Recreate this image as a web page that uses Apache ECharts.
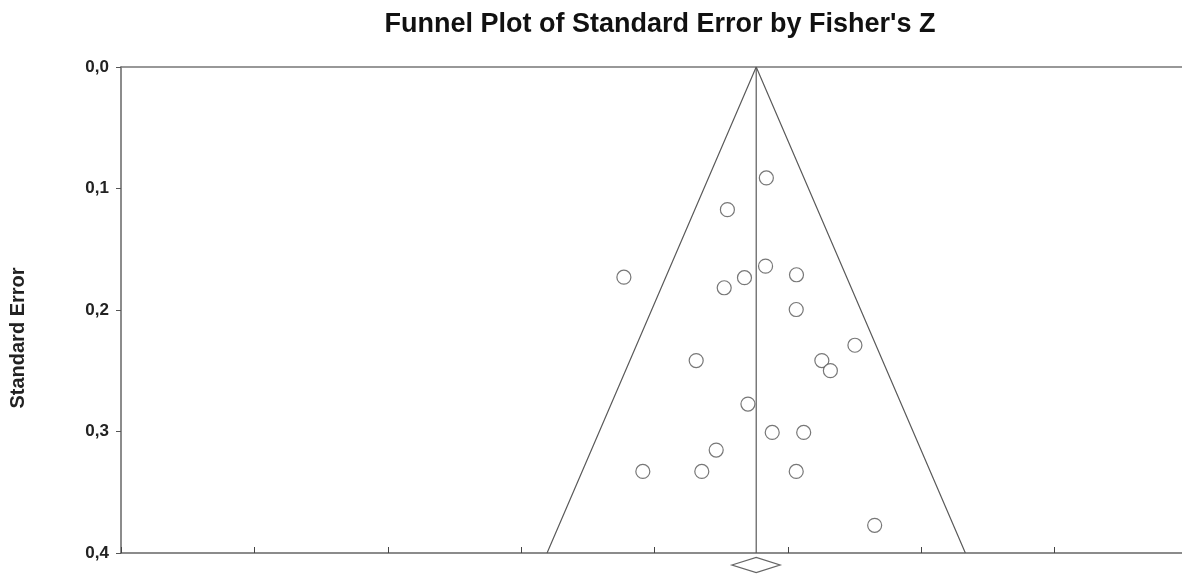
<!DOCTYPE html>
<html>
<head>
<meta charset="utf-8">
<script src="https://cdn.jsdelivr.net/npm/echarts@6/dist/echarts.min.js"></script>
<style>html,body{margin:0;padding:0;background:#fff}#c{width:1182px;height:579px}</style>
</head>
<body>
<div id="c"></div>
<script>
// Data
var fisherZ = [0.419, 0.273, -0.115, 0.337, 0.416, 0.532, 0.261, 0.531, 0.751, 0.156, 0.627, 0.659, 0.350, 0.441, 0.559, 0.231, -0.044, 0.177, 0.531, 0.825];
var stdErr  = [0.0913, 0.1174, 0.173, 0.1734, 0.1639, 0.171, 0.1817, 0.1996, 0.229, 0.2416, 0.2416, 0.2499, 0.2774, 0.3008, 0.3008, 0.3153, 0.3329, 0.3329, 0.3329, 0.3772];
var summaryZ = 0.381;
var summaryLow = 0.29;
var summaryHigh = 0.47;
var seMax = 0.4;
var xMin = -2, xMax = 1.977; // right edge of the plot is cut off by the picture
var yTicks = ['0,0', '0,1', '0,2', '0,3', '0,4'];

var points = fisherZ.map(function (z, i) { return [z, stdErr[i]]; });
var funnel = [[summaryZ - 1.96 * seMax, seMax], [summaryZ, 0], [summaryZ + 1.96 * seMax, seMax]];
var centre = [[summaryZ, 0], [summaryZ, seMax]];

var lineCol = '#5a5a5a';
var chart = echarts.init(document.getElementById('c'));
chart.setOption({
  animation: false,
  title: {
    text: "Funnel Plot of Standard Error by Fisher's Z",
    left: 655, top: 6, textAlign: 'center',
    textStyle: { fontFamily: 'Liberation Sans', fontWeight: 'bold', fontSize: 27, color: '#111' }
  },
  grid: { left: 121, top: 67, right: 0, bottom: 26 },
  xAxis: [{
    type: 'value', min: xMin, max: xMax, interval: 0.5, position: 'bottom',
    axisLine: { show: true, onZero: false, lineStyle: { color: '#666', width: 1.5 } },
    axisTick: { show: true, inside: true, length: 6, lineStyle: { color: '#444', width: 1 } },
    axisLabel: { show: false },
    splitLine: { show: false }
  }, {
    type: 'value', min: xMin, max: xMax, position: 'top',
    axisLine: { show: true, onZero: false, lineStyle: { color: '#777', width: 1.5 } },
    axisTick: { show: false }, axisLabel: { show: false }, splitLine: { show: false }
  }],
  yAxis: {
    type: 'value', min: 0, max: 0.4, interval: 0.1, inverse: true, position: 'left',
    name: 'Standard Error', nameLocation: 'middle', nameGap: 93, nameRotate: 90,
    nameTextStyle: { fontFamily: 'Liberation Sans', fontWeight: 'bold', fontSize: 20, color: '#222', padding: [0, 56, 0, 0] },
    axisLine: { show: true, onZero: false, lineStyle: { color: '#666', width: 1.5 } },
    axisTick: { show: true, length: 5, lineStyle: { color: '#555' } },
    axisLabel: {
      margin: 12, fontFamily: 'Liberation Sans', fontWeight: 'bold', fontSize: 17, color: '#222',
      formatter: function (v) { return yTicks[Math.round(v * 10)]; }
    },
    splitLine: { show: false }
  },
  series: [{
    type: 'line', data: funnel, symbol: 'none', silent: true,
    lineStyle: { color: lineCol, width: 1.2 }
  }, {
    type: 'line', data: centre, symbol: 'none', silent: true,
    lineStyle: { color: lineCol, width: 1.2 }
  }, {
    type: 'scatter', data: points, symbol: 'circle', symbolSize: 14,
    itemStyle: { color: '#fff', borderColor: '#555', borderWidth: 1.2 }
  }, {
    type: 'custom', clip: false, silent: true,
    data: [[summaryZ, seMax, summaryLow, summaryHigh]],
    renderItem: function (params, api) {
      var c = api.coord([api.value(0), api.value(1)]);
      var l = api.coord([api.value(2), api.value(1)]);
      var r = api.coord([api.value(3), api.value(1)]);
      var cy = c[1] + 12, h = 7.5;
      return {
        type: 'polygon',
        shape: { points: [[l[0], cy], [c[0], cy - h], [r[0], cy], [c[0], cy + h]] },
        style: { fill: '#fff', stroke: '#666', lineWidth: 1.3 }
      };
    }
  }]
});
</script>
</body>
</html>
